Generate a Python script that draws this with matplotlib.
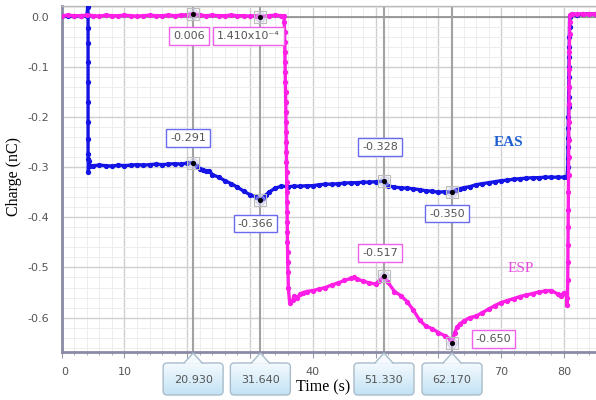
import numpy as np
import matplotlib
matplotlib.use("Agg")
import matplotlib.pyplot as plt
from matplotlib.patches import FancyBboxPatch, Polygon
from matplotlib.colors import LinearSegmentedColormap
from matplotlib.lines import Line2D

# ---------------- data ----------------
eas_time = [0, 1, 2, 3, 4.0, 4.15,
            4.2, 4.2, 4.2, 4.2, 4.2, 4.2, 4.2, 4.2, 4.2, 4.22, 4.25, 4.3, 4.5,
            5, 6, 7, 8, 9, 10, 11, 12, 13, 14, 15, 16, 17, 18, 19, 20, 20.93,
            21.5, 22, 22.5, 23, 23.5, 24, 25, 26, 27, 28, 29, 30, 31, 31.64,
            32, 32.5, 33, 34, 35, 36, 37, 38, 39, 40, 41, 42, 43, 44, 45, 46, 47, 48, 49, 50, 51.33,
            52, 53, 54, 55, 56, 57, 58, 59, 60, 61, 62.17,
            62.8, 63.5, 64, 65, 66, 67, 68, 69, 70, 71, 72, 73, 74, 75, 76, 77, 78, 79, 80, 80.5,
            80.6, 80.62, 80.64, 80.66, 80.68, 80.7, 80.72, 80.74, 80.76, 80.78, 80.8, 80.82, 80.84, 80.86, 80.88, 80.9,
            81.2, 82, 83, 84, 85]
eas_charge = [0.001, 0.002, 0.001, 0.002, 0.001, 0.020,
              0.003, -0.023, -0.053, -0.090, -0.130, -0.170, -0.210, -0.243, -0.273, -0.283, -0.310, -0.288, -0.298,
              -0.297, -0.296, -0.297, -0.298, -0.296, -0.297, -0.296, -0.295, -0.296, -0.295, -0.294, -0.295, -0.294, -0.293, -0.294, -0.292, -0.291,
              -0.298, -0.303, -0.305, -0.308, -0.307, -0.315, -0.320, -0.327, -0.333, -0.340, -0.348, -0.355, -0.360, -0.366,
              -0.362, -0.356, -0.350, -0.342, -0.338, -0.339, -0.338, -0.338, -0.337, -0.337, -0.335, -0.334, -0.334, -0.333, -0.332, -0.331, -0.331, -0.330, -0.330, -0.329, -0.328,
              -0.337, -0.340, -0.341, -0.342, -0.343, -0.345, -0.347, -0.348, -0.350, -0.349, -0.350,
              -0.346, -0.343, -0.341, -0.339, -0.335, -0.333, -0.331, -0.329, -0.327, -0.326, -0.324, -0.323, -0.322, -0.321, -0.321, -0.320, -0.320, -0.320, -0.320, -0.319,
              -0.300, -0.281, -0.260, -0.241, -0.221, -0.200, -0.181, -0.160, -0.140, -0.121, -0.100, -0.080, -0.061, -0.040, -0.020, 0.000,
              0.005, 0.004, 0.005, 0.006, 0.005]

esp_time = [0, 1, 2, 3, 4, 5, 6, 7, 8, 9, 10, 11, 12, 13, 14, 15, 16, 17, 18, 19, 20, 20.93,
            22, 23, 24, 25, 26, 27, 28, 29, 30, 31, 31.64, 33, 34, 35, 35.4,
            35.45, 35.5, 35.52, 35.55, 35.58, 35.6, 35.62, 35.65, 35.68, 35.7, 35.72, 35.74, 35.76, 35.78,
            35.8, 35.82, 35.84, 35.86, 35.88, 35.9, 35.92, 35.94, 35.96, 35.98, 36.0, 36.05, 36.1,
            36.3, 36.8, 37, 37.5, 38, 38.5, 39, 40, 41, 42, 43, 44, 45, 46, 46.5, 47, 48, 49, 50, 50.5, 51.33,
            52, 53, 54, 55, 56, 57, 58, 59, 60, 61, 61.8, 62.17,
            62.6, 63, 63.5, 64, 65, 66, 67, 68, 69, 70, 71, 72, 73, 74, 75, 76, 77, 78, 79, 79.5, 80, 80.4, 80.5, 80.55,
            80.6, 80.62, 80.64, 80.66, 80.68, 80.7, 80.72, 80.74, 80.76, 80.78, 80.8, 80.82, 80.84, 80.86, 80.88, 80.9, 80.95,
            81.3, 82, 83, 84, 85]
esp_charge = [0.002, 0.003, 0.002, 0.002, 0.003, 0.002, 0.001, 0.003, 0.002, 0.002, 0.003, 0.002, 0.001, 0.002, 0.003, 0.002, 0.002, 0.003, 0.002, 0.003, 0.004, 0.006,
              0.003, 0.002, 0.003, 0.002, 0.002, 0.003, 0.002, 0.002, 0.001, 0.002, 0.0001, 0.002, 0.003, 0.002, 0.002,
              -0.010, -0.030, -0.050, -0.070, -0.090, -0.110, -0.130, -0.150, -0.170, -0.190, -0.210, -0.230, -0.250, -0.270,
              -0.290, -0.310, -0.330, -0.350, -0.370, -0.390, -0.410, -0.430, -0.450, -0.470, -0.490, -0.510, -0.540,
              -0.570, -0.565, -0.557, -0.560, -0.553, -0.550, -0.548, -0.546, -0.543, -0.540, -0.535, -0.531, -0.526, -0.522, -0.520, -0.523, -0.527, -0.531, -0.533, -0.528, -0.517,
              -0.530, -0.548, -0.556, -0.568, -0.585, -0.605, -0.617, -0.622, -0.630, -0.636, -0.642, -0.650,
              -0.630, -0.618, -0.612, -0.607, -0.600, -0.597, -0.590, -0.583, -0.576, -0.570, -0.566, -0.562, -0.558, -0.555, -0.552, -0.549, -0.547, -0.546, -0.553, -0.556, -0.550, -0.552, -0.575, -0.560,
              -0.525, -0.490, -0.455, -0.420, -0.385, -0.350, -0.315, -0.280, -0.245, -0.210, -0.175, -0.140, -0.105, -0.070, -0.035, -0.010, 0.003,
              0.006, 0.005, 0.006, 0.005, 0.006]

cursor_times = [20.93, 31.64, 51.33, 62.17]
cursor_labels = ["20.930", "31.640", "51.330", "62.170"]
eas_cursor_vals = [-0.291, -0.366, -0.328, -0.350]
eas_cursor_text = ["-0.291", "-0.366", "-0.328", "-0.350"]
esp_cursor_vals = [0.006, 0.000141, -0.517, -0.650]
esp_cursor_text = ["0.006", "1.410x10\u207b\u2074", "-0.517", "-0.650"]

xtick_values = [0, 10, 20, 30, 40, 50, 60, 70, 80]
# labels for 20, 30, 50, 60 sit under the cursor boxes in the reference
xtick_labels = ["0", "10", "", "", "40", "", "", "70", "80"]
ytick_values = [0.0, -0.1, -0.2, -0.3, -0.4, -0.5, -0.6]
ytick_labels = ["0.0", "-0.1", "-0.2", "-0.3", "-0.4", "-0.5", "-0.6"]

# ---------------- style ----------------
W, H = 596, 400
BLUE = "#1414e6"
PINK = "#ff1ee6"
XMIN, XMAX = 0.0, 85.1
YMIN, YMAX = -0.668, 0.0213
AX_L, AX_B, AX_W, AX_H = 61.7 / W, (H - 351.7) / H, (W - 61.7) / W, (351.7 - 6) / H

fig = plt.figure(figsize=(W / 100, H / 100), dpi=100)
ax = fig.add_axes([AX_L, AX_B, AX_W, AX_H])
ax.set_xlim(XMIN, XMAX)
ax.set_ylim(YMIN, YMAX)

ax.set_xticks(xtick_values)
ax.set_xticklabels(xtick_labels)
ax.set_xticks(np.arange(0, 86, 2), minor=True)
ax.set_yticks(ytick_values)
ax.set_yticklabels(ytick_labels)
ax.set_yticks(np.arange(-0.66, 0.021, 0.02), minor=True)
ax.grid(which="major", color="#cfcfcf", lw=1.0, zorder=0)
ax.grid(which="minor", color="#ededed", lw=0.7, zorder=0)
ax.set_axisbelow(True)
ax.tick_params(axis="both", which="both", labelsize=8, labelcolor="#555555", colors="#9a9aa8")
ax.tick_params(axis="y", which="both", length=0, pad=9)
ax.tick_params(axis="x", which="major", length=4, pad=7)
ax.tick_params(axis="x", which="minor", length=2.5)
lbls = ax.get_xticklabels()
lbls[0].set_horizontalalignment("left")

for s in ["left", "bottom"]:
    ax.spines[s].set_color("#8a8aa6")
    ax.spines[s].set_linewidth(2)
ax.spines["top"].set_color("#b8b8b8")
ax.spines["top"].set_linewidth(1)
ax.spines["right"].set_visible(False)
ax.axhline(0.0, color="#8c8c8c", lw=1.2, zorder=1)

# cursor lines
for t in cursor_times:
    ax.axvline(t, color="#a2a2a2", lw=1.5, zorder=2)

# series
ax.plot(eas_time, eas_charge, color=BLUE, lw=2.4, marker="o", ms=2.8, zorder=3)
ax.plot(esp_time, esp_charge, color=PINK, lw=2.4, marker="o", ms=2.8, zorder=4)

# cursor markers
for t, v in zip(cursor_times + cursor_times, eas_cursor_vals + esp_cursor_vals):
    ax.plot(t, v, "o", ms=7, color="#c4c4e4", alpha=0.45, zorder=5)
    ax.plot(t, v, "s", ms=9, mfc="none", mec="#bdbdbd", mew=0.8, ls="none", zorder=5)
    ax.plot(t, v, "o", ms=2.6, color="black", zorder=6)

# value labels
eas_label_pos = [(20.1, -0.2426), (30.9, -0.4126), (50.7, -0.2606), (61.35, -0.3926)]
esp_label_pos = [(20.27, -0.0386), (29.75, -0.0386), (50.7, -0.4706), (68.8, -0.6426)]
for (x, y), txt in zip(eas_label_pos, eas_cursor_text):
    ax.text(x, y, txt, ha="center", va="center", fontsize=8, color="#555555",
            bbox=dict(boxstyle="square,pad=0.35", fc="white", ec="#6a6af0", lw=1.0), zorder=7)
for (x, y), txt in zip(esp_label_pos, esp_cursor_text):
    ax.text(x, y, txt, ha="center", va="center", fontsize=8, color="#555555",
            bbox=dict(boxstyle="square,pad=0.35", fc="white", ec="#f060e8", lw=1.0), zorder=7)

# series names
ax.text(71.2, -0.2503, "EAS", ha="center", va="center", fontsize=11, fontweight="bold",
        family="Liberation Serif", color="#1f5fd0", zorder=7)
ax.text(73.1, -0.503, "ESP", ha="center", va="center", fontsize=11,
        family="Liberation Serif", color="#e64ce0", zorder=7)

# axis labels
fig.text(323 / W, 1 - 387 / H, "Time (s)", ha="center", va="center", fontsize=11.5,
         family="Liberation Serif", color="black")
fig.text(14 / W, 1 - 177 / H, "Charge (nC)", ha="center", va="center", rotation=90,
         fontsize=11.5, family="Liberation Serif", color="black")

# bottom cursor boxes (pixel overlay)
ov = fig.add_axes([0, 0, 1, 1], zorder=10)
ov.set_xlim(0, W)
ov.set_ylim(H, 0)
ov.axis("off")
ov.patch.set_alpha(0)
cmap = LinearSegmentedColormap.from_list("g", ["#f4fafe", "#c2e2f4"])
grad = np.linspace(0, 1, 64).reshape(-1, 1)
for t, txt in zip(cursor_times, cursor_labels):
    px = W * (AX_L + (t - XMIN) / (XMAX - XMIN) * AX_W)
    bl, bt, bw, bh = px - 30, 363, 60, 32
    box = FancyBboxPatch((bl, bt), bw, bh, boxstyle="round,pad=0,rounding_size=4",
                         fc="none", ec="#a9bccb", lw=1.0, zorder=3)
    ov.add_patch(box)
    im = ov.imshow(grad, cmap=cmap, extent=(bl, bl + bw, bt + bh, bt), origin="upper",
                   aspect="auto", zorder=2)
    im.set_clip_path(box)
    tri = Polygon([(px - 9, bt + 0.8), (px, 353), (px + 9, bt + 0.8)], closed=True,
                  fc="#f4fafe", ec="none", zorder=4)
    ov.add_patch(tri)
    ov.add_line(Line2D([px - 9, px, px + 9], [bt, 353, bt], color="#a9bccb", lw=1.0, zorder=5))
    ov.text(px, bt + bh / 2 + 1, txt, ha="center", va="center", fontsize=8, color="#555555", zorder=6)
ov.set_xlim(0, W)
ov.set_ylim(H, 0)

fig.savefig("out.png", dpi=100)
